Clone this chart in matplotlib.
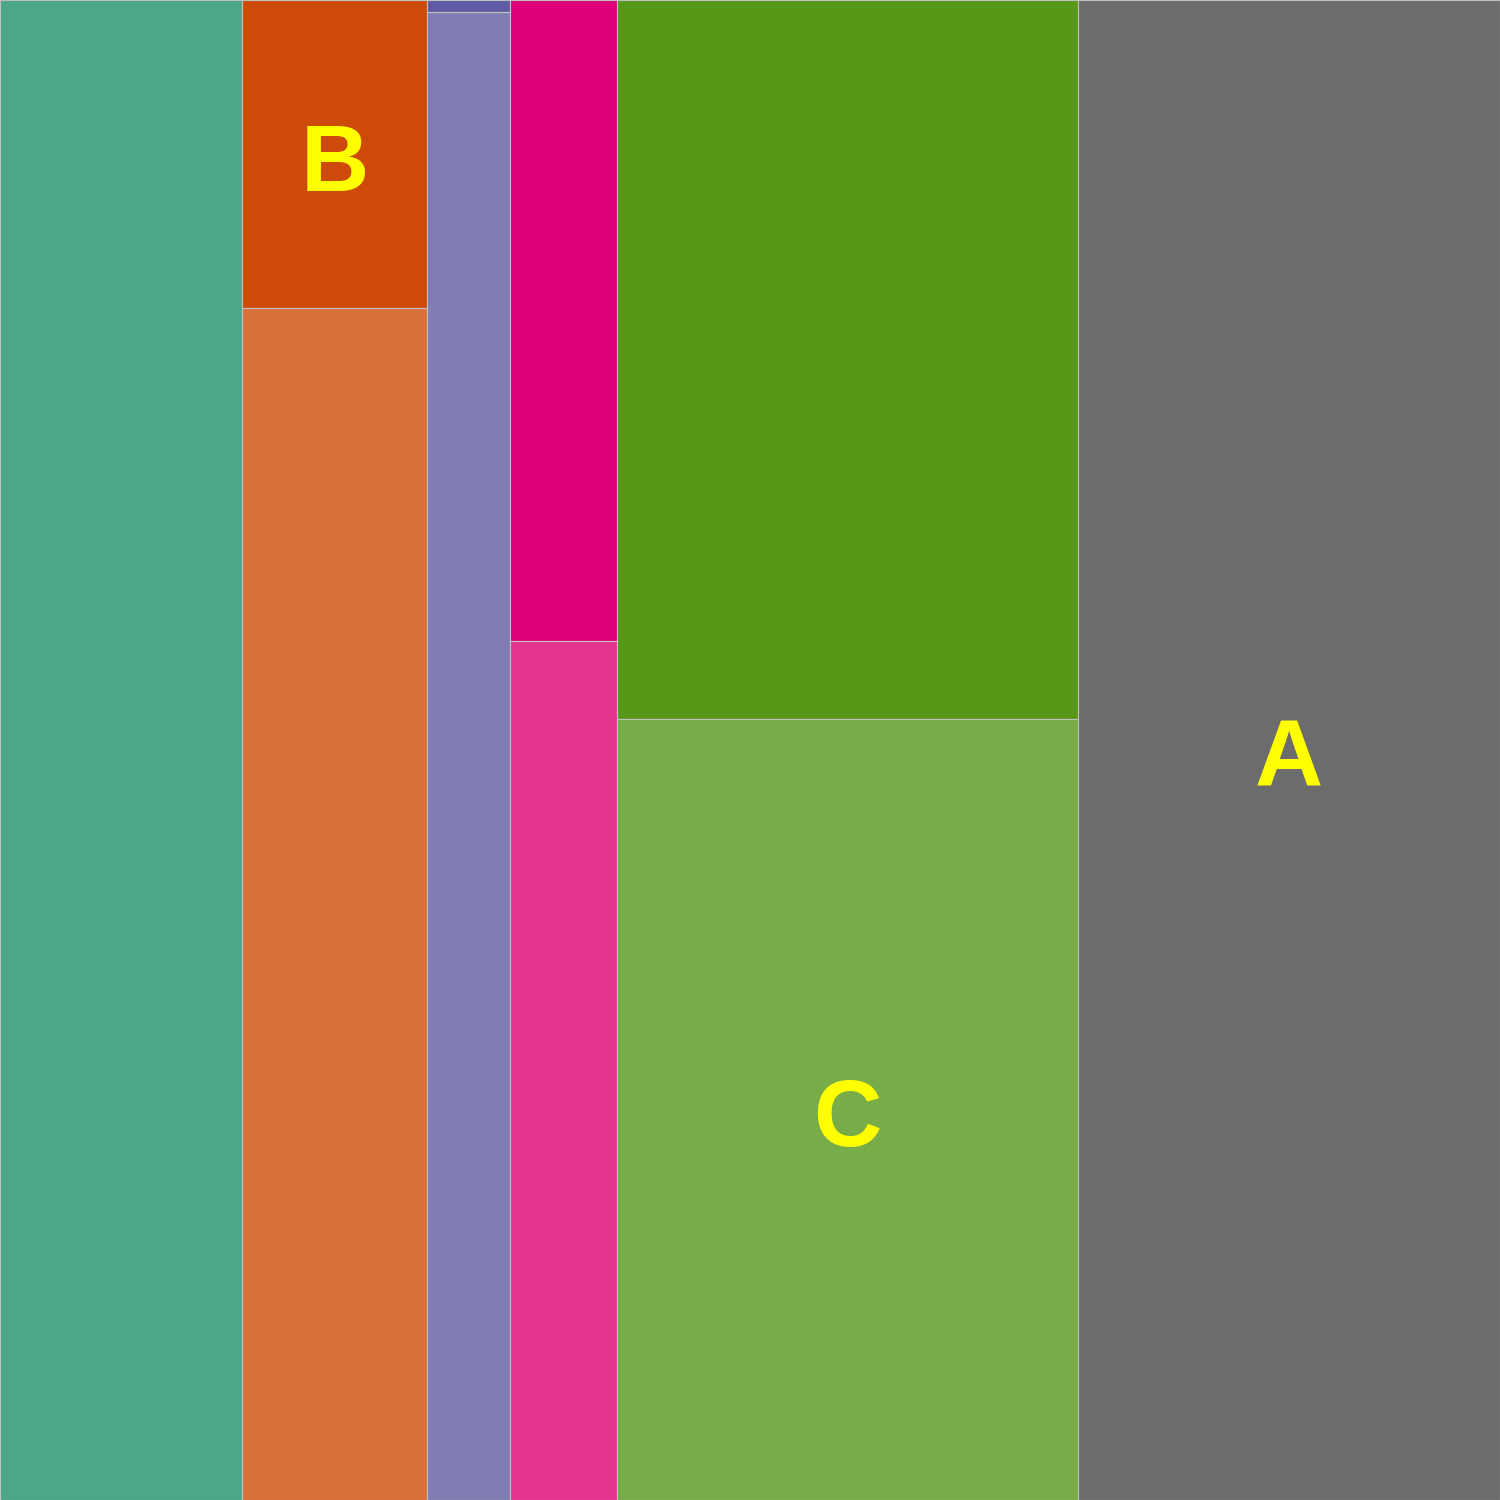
import numpy as np
import matplotlib
matplotlib.use("Agg")
import matplotlib.pyplot as plt

# column widths (relative) and share of the upper block in each column
col_widths = [242, 185, 83, 107, 461, 422]
top_share = [0.0, 0.205, 0.008, 0.427, 0.479, 0.0]
top_colors = ["#4ba785", "#cd4a08", "#5f5ba3", "#de0078", "#589818", "#6c6c6c"]
bottom_colors = ["#4ba785", "#d8703c", "#817db4", "#e43490", "#77ac48", "#6c6c6c"]
# labels: (column, part) -> text
labels = {(1, "top"): "B", (5, "bottom"): "A", (4, "bottom"): "C"}

widths = np.array(col_widths, dtype=float) / sum(col_widths)
lefts = np.concatenate([[0], np.cumsum(widths)[:-1]])

fig = plt.figure(figsize=(15, 15), dpi=100)
ax = fig.add_axes([0, 0, 1, 1])
edge = "#c0c0c0"
fs = 68

for i in range(len(widths)):
    t = top_share[i]
    if t > 0:
        ax.bar(lefts[i], t, width=widths[i], bottom=0, align="edge",
               color=top_colors[i], edgecolor=edge, linewidth=0.8)
    ax.bar(lefts[i], 1 - t, width=widths[i], bottom=t, align="edge",
           color=bottom_colors[i], edgecolor=edge, linewidth=0.8)
    for part, y0, h in [("top", 0, t), ("bottom", t, 1 - t)]:
        if (i, part) in labels:
            # baseline shifted down by half the cap height
            ax.annotate(labels[(i, part)], (lefts[i] + widths[i] / 2, y0 + h / 2),
                        xytext=(0, -0.36 * fs - 2), textcoords="offset points",
                        ha="center", va="baseline", color="yellow", fontsize=fs,
                        fontweight="bold", family="Liberation Sans")

ax.set_xlim(0, 1)
ax.set_ylim(1, 0)
ax.axis("off")
fig.savefig("out.png", dpi=100)
plt.close(fig)
